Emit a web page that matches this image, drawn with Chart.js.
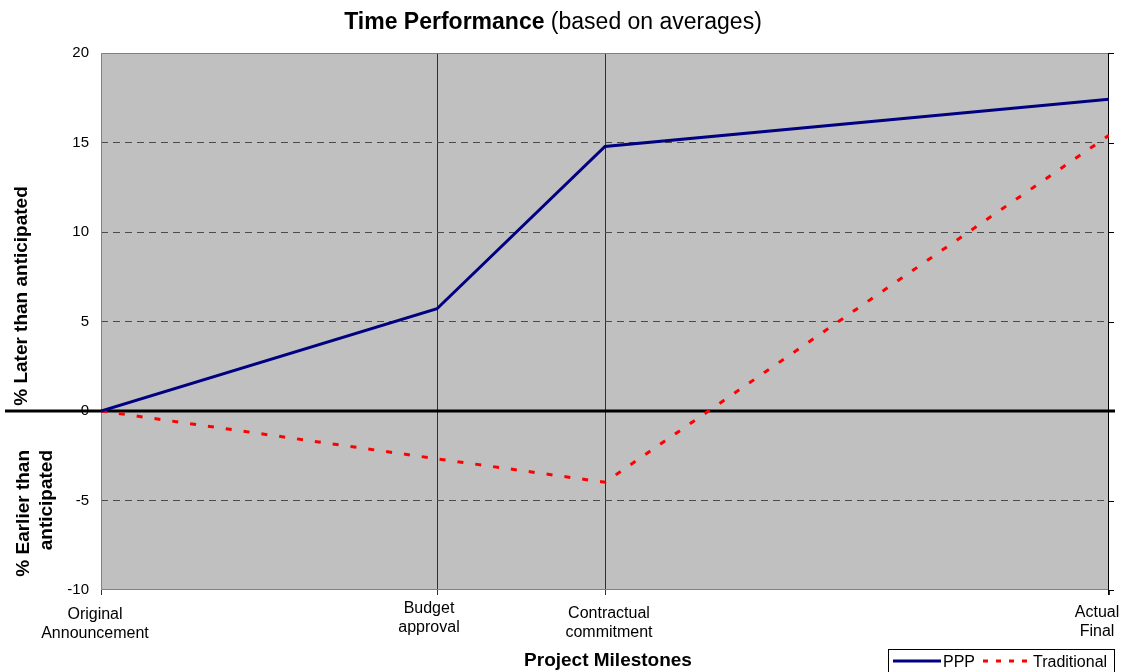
<!DOCTYPE html>
<html>
<head>
<meta charset="utf-8">
<title>Time Performance</title>
<script src="https://cdn.jsdelivr.net/npm/chart.js@4.4.1/dist/chart.umd.min.js"></script>
<style>
  html, body { margin: 0; padding: 0; background: #ffffff; }
  #wrap { width: 1130px; height: 672px; }
</style>
</head>
<body>
<div id="wrap"><canvas id="chart" width="1130" height="672"></canvas></div>
<script>
// Project milestones (x position on a relative time scale) and tick labels
const milestoneLabels = [
  ['Original', 'Announcement'],
  ['Budget', 'approval'],
  ['Contractual', 'commitment'],
  ['Actual', 'Final']
];
const milestonePositions = [0, 2, 3, 6];

// % later (+) / earlier (-) than anticipated, averaged per delivery route
const pppValues = [0, 5.71, 14.78, 17.42];
const traditionalValues = [0, -2.67, -3.98, 15.4];

const seriesNames = ['PPP', 'Traditional'];
const yMin = -10, yMax = 20, yStep = 5;

const FONT = 'Arial, "Liberation Sans", Helvetica, sans-serif';

function points(values) {
  return milestonePositions.map((x, i) => ({ x: x, y: values[i] }));
}

// Per-label tweaks for the wrapped milestone captions (dx, baseline of first line)
const captionLayout = [
  { dx: -6, y: 619 },
  { dx: -8, y: 613 },
  { dx: 4, y: 618 },
  { dx: -12, y: 617 }
];

const decorations = {
  id: 'decorations',
  beforeDraw(chart) {
    const { ctx, chartArea: a } = chart;
    ctx.save();
    ctx.fillStyle = '#ffffff';
    ctx.fillRect(0, 0, chart.width, chart.height);
    ctx.fillStyle = '#c0c0c0';
    ctx.fillRect(a.left, a.top, a.right - a.left, a.bottom - a.top);
    ctx.restore();
  },
  beforeDatasetsDraw(chart) {
    const { ctx, chartArea: a, scales } = chart;
    const ys = scales.y;
    ctx.save();
    // plot frame: grey on top, left and bottom
    ctx.strokeStyle = '#808080';
    ctx.lineWidth = 1;
    ctx.beginPath();
    ctx.moveTo(a.right, a.top + 0.5);
    ctx.lineTo(a.left + 0.5, a.top + 0.5);
    ctx.lineTo(a.left + 0.5, a.bottom - 0.5);
    ctx.lineTo(a.right, a.bottom - 0.5);
    ctx.stroke();
    // right-hand axis with its tick marks
    ctx.strokeStyle = '#000000';
    ctx.beginPath();
    ctx.moveTo(a.right - 0.5, a.top);
    ctx.lineTo(a.right - 0.5, a.bottom + 5);
    ys.ticks.forEach(t => {
      const py = Math.round(ys.getPixelForValue(t.value)) + 0.5;
      ctx.moveTo(a.right - 0.5, py);
      ctx.lineTo(a.right + 5, py);
    });
    ctx.stroke();
    // heavy zero line across the whole width
    const y0 = ys.getPixelForValue(0);
    ctx.lineWidth = 3;
    ctx.beginPath();
    ctx.moveTo(5, y0);
    ctx.lineTo(a.right + 6, y0);
    ctx.stroke();
    ctx.restore();
  },
  afterDraw(chart) {
    const { ctx, chartArea: a, scales } = chart;
    const xs = scales.x;
    ctx.save();
    ctx.fillStyle = '#000000';
    ctx.textBaseline = 'alphabetic';

    // chart title: bold part + normal part, centred together
    const t1 = 'Time Performance', t2 = ' (based on averages)';
    ctx.font = 'bold 23px ' + FONT;
    const w1 = ctx.measureText(t1).width;
    ctx.font = '23px ' + FONT;
    const w2 = ctx.measureText(t2).width;
    const tx = 553 - (w1 + w2) / 2;
    ctx.textAlign = 'left';
    ctx.font = 'bold 23px ' + FONT;
    ctx.fillText(t1, tx, 29);
    ctx.font = '23px ' + FONT;
    ctx.fillText(t2, tx + w1, 29);

    // milestone captions under the x axis
    ctx.font = '16px ' + FONT;
    ctx.textAlign = 'center';
    milestonePositions.forEach((v, i) => {
      const lay = captionLayout[i];
      const cx = xs.getPixelForValue(v) + lay.dx;
      milestoneLabels[i].forEach((line, k) => {
        ctx.fillText(line, cx, lay.y + k * 19);
      });
    });

    // x axis title
    ctx.font = 'bold 19px ' + FONT;
    ctx.fillText('Project Milestones', (a.left + a.right) / 2 + 3, 666);

    // y axis titles (rotated)
    ctx.save();
    ctx.translate(27, (a.top + scales.y.getPixelForValue(0)) / 2 + 64);
    ctx.rotate(-Math.PI / 2);
    ctx.textAlign = 'center';
    ctx.fillText('% Later than anticipated', 0, 0);
    ctx.restore();

    ctx.save();
    ctx.translate(29, 0);
    ctx.rotate(-Math.PI / 2);
    ctx.textAlign = 'right';
    ctx.fillText('% Earlier than', -450, 0);
    ctx.restore();
    ctx.save();
    ctx.translate(52, 0);
    ctx.rotate(-Math.PI / 2);
    ctx.textAlign = 'right';
    ctx.fillText('anticipated', -450, 0);
    ctx.restore();

    // legend box
    const ds = chart.data.datasets;
    ctx.strokeStyle = '#000000';
    ctx.lineWidth = 1;
    ctx.strokeRect(888.5, 649.5, 226, 40);
    ctx.lineWidth = 3;
    ctx.strokeStyle = ds[0].borderColor;
    ctx.beginPath();
    ctx.moveTo(893, 661);
    ctx.lineTo(941, 661);
    ctx.stroke();
    ctx.strokeStyle = ds[1].borderColor;
    ctx.setLineDash([5, 8]);
    ctx.beginPath();
    ctx.moveTo(983, 661);
    ctx.lineTo(1030, 661);
    ctx.stroke();
    ctx.setLineDash([]);
    ctx.font = '16px ' + FONT;
    ctx.textAlign = 'left';
    ctx.fillText(ds[0].label, 943, 667);
    ctx.fillText(ds[1].label, 1033, 667);
    ctx.restore();
  }
};

const majorDashed = v => v !== 0 && v !== yMin && v !== yMax;

new Chart(document.getElementById('chart'), {
  type: 'line',
  data: {
    datasets: [
      {
        label: seriesNames[0],
        data: points(pppValues),
        borderColor: '#000080',
        borderWidth: 3,
        pointRadius: 0,
        tension: 0,
        fill: false
      },
      {
        label: seriesNames[1],
        data: points(traditionalValues),
        borderColor: '#ff0000',
        borderWidth: 3,
        borderDash: [6, 12],
        borderCapStyle: 'butt',
        pointRadius: 0,
        tension: 0,
        fill: false
      }
    ]
  },
  options: {
    responsive: false,
    animation: false,
    devicePixelRatio: 1,
    layout: { padding: { top: 53, right: 21, left: 0, bottom: 0 } },
    plugins: {
      legend: { display: false },
      title: { display: false },
      tooltip: { enabled: false }
    },
    scales: {
      x: {
        type: 'linear',
        min: milestonePositions[0],
        max: milestonePositions[milestonePositions.length - 1],
        afterBuildTicks: s => { s.ticks = milestonePositions.map(v => ({ value: v })); },
        afterFit: s => { s.height = 82; },
        ticks: { display: false },
        border: { display: false },
        grid: {
          color: c => (c.tick && c.tick.value > milestonePositions[0] &&
                        c.tick.value < milestonePositions[milestonePositions.length - 1])
                        ? '#303030' : 'rgba(0,0,0,0)',
          tickColor: '#303030',
          lineWidth: 1,
          drawTicks: true,
          tickLength: 5
        }
      },
      y: {
        min: yMin,
        max: yMax,
        afterFit: s => { s.width = 101; },
        ticks: {
          stepSize: yStep,
          color: '#000000',
          padding: 12,
          font: { family: FONT, size: 15 }
        },
        border: { display: false, dash: [7, 5] },
        grid: {
          color: c => (c.tick && majorDashed(c.tick.value)) ? '#4a4a4a' : 'rgba(0,0,0,0)',
          lineWidth: 1,
          drawTicks: false
        }
      }
    }
  },
  plugins: [decorations]
});
</script>
</body>
</html>
